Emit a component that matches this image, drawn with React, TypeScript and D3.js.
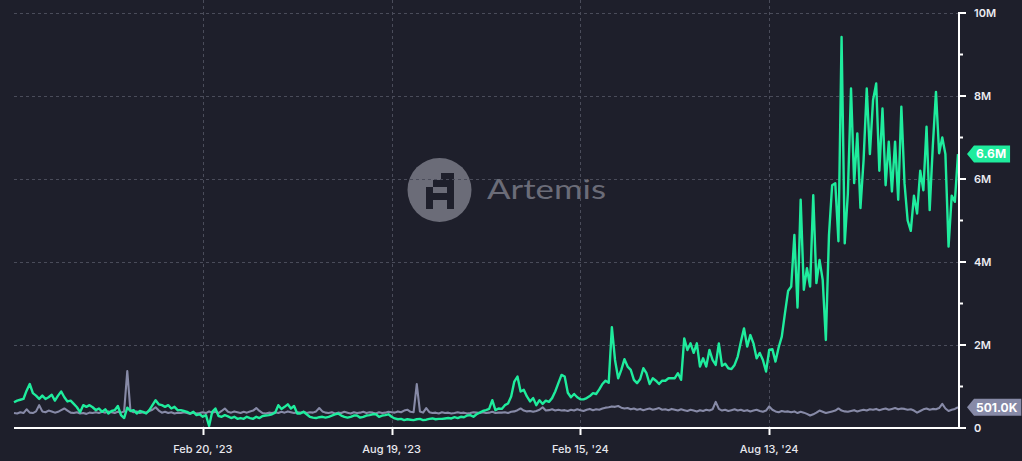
import React, { useRef, useEffect } from 'react';
import * as d3 from 'd3';

// one point every 3 days, starting Aug 24 '22 (values in millions)
const START = Date.UTC(2022, 7, 24);
const STEP_DAYS = 3;

const greenA = [
  0.62, 0.66, 0.68, 0.7, 0.9, 1.06, 0.84, 0.78, 0.7, 0.78,
  0.7, 0.74, 0.8, 0.66, 0.78, 0.88, 0.74, 0.64, 0.66, 0.58,
  0.5, 0.38, 0.55, 0.51, 0.55, 0.5, 0.43, 0.47, 0.39, 0.45,
  0.35, 0.41, 0.43, 0.53, 0.31, 0.24, 0.49, 0.41, 0.43, 0.35,
  0.41, 0.39, 0.35, 0.43, 0.55, 0.67, 0.57, 0.55, 0.51, 0.55,
  0.47, 0.51, 0.43, 0.43, 0.41, 0.39, 0.35, 0.39, 0.31, 0.33,
];
const greenB = [
  0.27, 0.31, 0.05, 0.39, 0.47, 0.29, 0.27, 0.31, 0.28, 0.24,
  0.27, 0.22, 0.24, 0.22, 0.27, 0.24, 0.22, 0.27, 0.24, 0.29,
  0.3, 0.31, 0.33, 0.37, 0.55, 0.46, 0.51, 0.57, 0.47, 0.53,
  0.35, 0.35, 0.39, 0.33, 0.27, 0.25, 0.24, 0.26, 0.27, 0.25,
  0.27, 0.3, 0.33, 0.35, 0.3, 0.27, 0.25, 0.27, 0.3, 0.3,
  0.25, 0.27, 0.3, 0.31, 0.33, 0.33, 0.27, 0.3, 0.31, 0.33,
];
const greenC = [
  0.27, 0.23, 0.21, 0.22, 0.19, 0.21, 0.2, 0.19, 0.21, 0.22,
  0.19, 0.2, 0.22, 0.23, 0.21, 0.22, 0.22, 0.23, 0.24, 0.23,
  0.26, 0.24, 0.27, 0.26, 0.3, 0.31, 0.27, 0.33, 0.37, 0.41,
  0.43, 0.46, 0.67, 0.43, 0.47, 0.46, 0.55, 0.59, 0.76, 1.12,
  1.24, 0.88, 0.92, 0.76, 0.64, 0.72, 0.55, 0.67, 0.58, 0.66,
  0.63, 0.72, 0.88, 1.08, 1.28, 1.24, 0.85, 0.74, 0.82, 0.74,
];
const greenD = [
  0.69, 0.69, 0.72, 0.77, 0.84, 0.82, 0.93, 1.06, 1.14, 1.09,
  2.43, 1.64, 1.2, 1.4, 1.66, 1.48, 1.4, 1.16, 1.08, 1.18,
  1.44, 1.32, 1.06, 1.2, 1.14, 1.06, 1.14, 1.14, 1.2, 1.2,
  1.2, 1.32, 1.16, 2.16, 1.88, 2.04, 1.81, 2.04, 1.48, 1.68,
  1.48, 1.88, 1.64, 1.52, 2.04, 1.5, 1.55, 1.44, 1.42, 1.52,
  1.72, 2.08, 2.4, 1.96, 2.24, 2.04, 1.68, 1.81, 1.64, 1.36,
];
const greenE = [
  1.88, 1.9, 1.6, 1.94, 2.2, 2.76, 3.3, 3.41, 4.65, 2.9,
  5.5, 3.33, 3.85, 3.41, 5.61, 3.49, 4.05, 3.57, 2.12, 4.65,
  5.85, 5.9, 4.5, 9.42, 4.45, 5.65, 8.18, 5.9, 7.1, 5.3,
  6.46, 8.18, 6.6, 7.9, 8.3, 6.2, 7.7, 5.85, 6.9, 5.7,
  6.9, 5.5, 7.74, 5.9, 5.0, 4.75, 5.6, 5.17, 6.2, 5.73,
  7.26, 5.25, 6.8, 8.1, 6.62, 7.0, 6.6, 4.37, 5.6, 5.45, 6.6,
];

const grayA = [
  0.36, 0.35, 0.38, 0.36, 0.45, 0.37, 0.36, 0.4, 0.55, 0.4,
  0.38, 0.42, 0.4, 0.37, 0.39, 0.43, 0.47, 0.42, 0.37, 0.36,
  0.38, 0.35, 0.36, 0.34, 0.37, 0.36, 0.38, 0.36, 0.39, 0.37,
  0.4, 0.38, 0.36, 0.39, 0.37, 0.4, 1.37, 0.42, 0.38, 0.4,
  0.36, 0.38, 0.37, 0.41, 0.44, 0.5, 0.42, 0.37, 0.39, 0.36,
  0.38, 0.35, 0.37, 0.36, 0.38, 0.36, 0.34, 0.37, 0.35, 0.36,
];
const grayB = [
  0.38, 0.36, 0.4, 0.37, 0.39, 0.36, 0.41, 0.47, 0.39, 0.37,
  0.4, 0.38, 0.36, 0.39, 0.37, 0.4, 0.42, 0.48, 0.41, 0.36,
  0.35, 0.37, 0.36, 0.38, 0.36, 0.39, 0.37, 0.4, 0.38, 0.36,
  0.38, 0.37, 0.39, 0.36, 0.38, 0.37, 0.4, 0.48, 0.4, 0.37,
  0.36, 0.38, 0.35, 0.37, 0.36, 0.39, 0.37, 0.35, 0.38, 0.36,
  0.37, 0.39, 0.36, 0.38, 0.37, 0.35, 0.38, 0.36, 0.37, 0.39,
];
const grayC = [
  0.38, 0.37, 0.4, 0.38, 0.42, 0.44, 0.39, 0.38, 1.06, 0.4,
  0.37, 0.48, 0.38, 0.36, 0.37, 0.35, 0.38, 0.36, 0.37, 0.35,
  0.36, 0.38, 0.36, 0.37, 0.35, 0.36, 0.38, 0.37, 0.36, 0.38,
  0.36, 0.37, 0.39, 0.36, 0.37, 0.37, 0.38, 0.36, 0.39, 0.4,
  0.43, 0.47, 0.42, 0.4, 0.41, 0.39, 0.41, 0.44, 0.5, 0.42,
  0.43, 0.45, 0.42, 0.44, 0.42, 0.43, 0.41, 0.44, 0.42, 0.45,
];
const grayD = [
  0.43, 0.41, 0.44, 0.46, 0.43, 0.45, 0.44, 0.47, 0.49, 0.5,
  0.52, 0.51, 0.53, 0.49, 0.47, 0.48, 0.45, 0.47, 0.44, 0.46,
  0.43, 0.45, 0.47, 0.44, 0.46, 0.48, 0.44, 0.45, 0.43, 0.46,
  0.44, 0.42, 0.45, 0.43, 0.41, 0.44, 0.42, 0.4, 0.43, 0.41,
  0.44, 0.42, 0.45, 0.63, 0.46, 0.42, 0.44, 0.41, 0.43, 0.45,
  0.42, 0.44, 0.41, 0.43, 0.4, 0.42, 0.44, 0.41, 0.39, 0.42,
];
const grayE = [
  0.52, 0.44, 0.4, 0.38, 0.41, 0.39, 0.4, 0.38, 0.4, 0.36,
  0.39, 0.37, 0.34, 0.3, 0.33, 0.37, 0.42, 0.39, 0.36, 0.38,
  0.4, 0.42, 0.47, 0.42, 0.4, 0.39, 0.41, 0.43, 0.4, 0.42,
  0.44, 0.42, 0.45, 0.44, 0.46, 0.43, 0.45, 0.47, 0.44, 0.46,
  0.48, 0.45, 0.47, 0.46, 0.44, 0.45, 0.42, 0.37, 0.41, 0.45,
  0.47, 0.44, 0.46, 0.45, 0.48, 0.58, 0.47, 0.41, 0.44, 0.46, 0.501,
];

const xTickDates = ['2023-02-20', '2023-08-19', '2024-02-15', '2024-08-13'];
const yTicks = [0, 2, 4, 6, 8, 10];
const yMinorTicks = [1, 3, 5, 7, 9];

const GREEN = '#1fec9d';
const GRAY = '#878aa7';
const BG = '#1e1f2b';
const FONT = 'Inter, "Noto Sans", sans-serif';

type Pt = { date: Date; v: number };

function toPoints(values: number[]): Pt[] {
  return values.map((v, i) => ({ date: new Date(START + i * STEP_DAYS * 864e5), v }));
}

function fmtBadge(v: number) {
  return v >= 1 ? `${v.toFixed(1)}M` : `${(v * 1000).toFixed(1)}K`;
}

export default function App() {
  const chartRef = useRef<SVGSVGElement>(null);

  useEffect(() => {
    if (!chartRef.current) return;
    const svg = d3.select(chartRef.current);
    svg.selectAll('*').remove();

    const W = 1022;
    const H = 461;
    const green = toPoints([...greenA, ...greenB, ...greenC, ...greenD, ...greenE]);
    const gray = toPoints([...grayA, ...grayB, ...grayC, ...grayD, ...grayE]);

    const x = d3
      .scaleUtc()
      .domain([green[0].date, green[green.length - 1].date])
      .range([14, 958]);
    const y = d3.scaleLinear().domain([0, 10]).range([428, 13]);
    const axisX = 959;

    svg.append('rect').attr('width', W).attr('height', H).attr('fill', BG);

    // Watermark
    const wm = svg.append('g');
    wm.append('circle').attr('cx', 439.5).attr('cy', 190).attr('r', 32).attr('fill', '#6b6c78');
    const blocks = [
      [441, 173, 13, 7],
      [433, 180, 21, 7],
      [426, 187, 7, 22],
      [433, 193, 21, 7],
      [447, 187, 7, 22],
    ];
    wm.selectAll('rect.logo')
      .data(blocks)
      .enter()
      .append('rect')
      .attr('x', (d) => d[0])
      .attr('y', (d) => d[1])
      .attr('width', (d) => d[2])
      .attr('height', (d) => d[3])
      .attr('fill', BG);
    wm.append('text')
      .attr('x', 487)
      .attr('y', 199)
      .attr('font-family', 'Lato, "Open Sans", sans-serif')
      .attr('font-size', 27)
      .attr('textLength', 119)
      .attr('lengthAdjust', 'spacingAndGlyphs')
      .attr('fill', '#6b6c78')
      .text('Artemis');

    // Grid
    const grid = svg.append('g').attr('stroke', '#4a4c5a').attr('stroke-width', 1).attr('stroke-dasharray', '3,3');
    grid.selectAll('line.h')
      .data(yTicks.filter((t) => t > 0))
      .enter()
      .append('line')
      .attr('x1', 14)
      .attr('x2', axisX)
      .attr('y1', (d) => y(d) + 0.5)
      .attr('y2', (d) => y(d) + 0.5);
    const tickDates = xTickDates.map((s) => new Date(s + 'T00:00:00Z'));
    grid.selectAll('line.v')
      .data(tickDates)
      .enter()
      .append('line')
      .attr('x1', (d) => Math.round(x(d)) + 0.5)
      .attr('x2', (d) => Math.round(x(d)) + 0.5)
      .attr('y1', 0)
      .attr('y2', 428);

    // Lines
    const line = d3
      .line<Pt>()
      .x((d) => x(d.date))
      .y((d) => y(d.v));
    svg.append('path')
      .datum(gray)
      .attr('d', line)
      .attr('fill', 'none')
      .attr('stroke', GRAY)
      .attr('stroke-width', 2.1)
      .attr('stroke-linejoin', 'round');
    svg.append('path')
      .datum(green)
      .attr('d', line)
      .attr('fill', 'none')
      .attr('stroke', GREEN)
      .attr('stroke-width', 2.4)
      .attr('stroke-linejoin', 'round');

    // Bottom axis
    svg.append('line')
      .attr('x1', 14)
      .attr('x2', axisX + 1)
      .attr('y1', 428)
      .attr('y2', 428)
      .attr('stroke', '#ffffff')
      .attr('stroke-width', 2);
    svg.selectAll('line.xt')
      .data(tickDates)
      .enter()
      .append('line')
      .attr('x1', (d) => Math.round(x(d)) + 0.5)
      .attr('x2', (d) => Math.round(x(d)) + 0.5)
      .attr('y1', 428)
      .attr('y2', 435)
      .attr('stroke', '#ffffff')
      .attr('stroke-width', 2);
    const fmt = d3.utcFormat("%b %-d, '%y");
    svg.selectAll('text.xl')
      .data(tickDates)
      .enter()
      .append('text')
      .attr('x', (d) => x(d))
      .attr('y', 453)
      .attr('text-anchor', 'middle')
      .attr('font-family', FONT)
      .attr('font-size', 11)
      .attr('font-weight', 500)
      .attr('fill', '#e8e8ee')
      .text((d) => fmt(d));

    // Right axis
    svg.append('line')
      .attr('x1', axisX)
      .attr('x2', axisX)
      .attr('y1', 12)
      .attr('y2', 429)
      .attr('stroke', '#ffffff')
      .attr('stroke-width', 2);
    svg.selectAll('line.yt')
      .data(yTicks)
      .enter()
      .append('line')
      .attr('x1', axisX)
      .attr('x2', axisX + 7)
      .attr('y1', (d) => y(d))
      .attr('y2', (d) => y(d))
      .attr('stroke', '#ffffff')
      .attr('stroke-width', 2);
    svg.selectAll('line.ym')
      .data(yMinorTicks)
      .enter()
      .append('line')
      .attr('x1', axisX)
      .attr('x2', axisX + 4)
      .attr('y1', (d) => y(d))
      .attr('y2', (d) => y(d))
      .attr('stroke', '#ffffff')
      .attr('stroke-width', 2);
    svg.selectAll('text.yl')
      .data(yTicks)
      .enter()
      .append('text')
      .attr('x', 974)
      .attr('y', (d) => y(d))
      .attr('dy', '0.36em')
      .attr('font-family', FONT)
      .attr('font-size', 11)
      .attr('font-weight', 600)
      .attr('fill', '#ececf2')
      .text((d) => (d === 0 ? '0' : `${d}M`));

    // Last-value badges
    const badges = [
      { v: green[green.length - 1].v, color: GREEN },
      { v: gray[gray.length - 1].v, color: GRAY },
    ];
    badges.forEach((b) => {
      const cy = y(b.v);
      const g = svg.append('g');
      const poly = g.append('path').attr('fill', b.color);
      const t = g
        .append('text')
        .attr('x', 976)
        .attr('y', cy)
        .attr('dy', '0.36em')
        .attr('font-family', FONT)
        .attr('font-size', 12)
        .attr('font-weight', 700)
        .attr('fill', '#ffffff')
        .text(fmtBadge(b.v));
      const tw = (t.node() as SVGTextElement).getComputedTextLength();
      const right = 976 + tw + 4;
      const h = 8.5;
      poly.attr(
        'd',
        `M967,${cy} L974,${cy - h} L${right},${cy - h} L${right},${cy + h} L974,${cy + h} Z`,
      );
    });
  }, []);

  return (
    <div style={{ position: 'fixed', left: 0, top: 0, width: 1022, height: 461, background: BG }}>
      <svg ref={chartRef} width={1022} height={461} style={{ display: 'block' }} />
    </div>
  );
}
